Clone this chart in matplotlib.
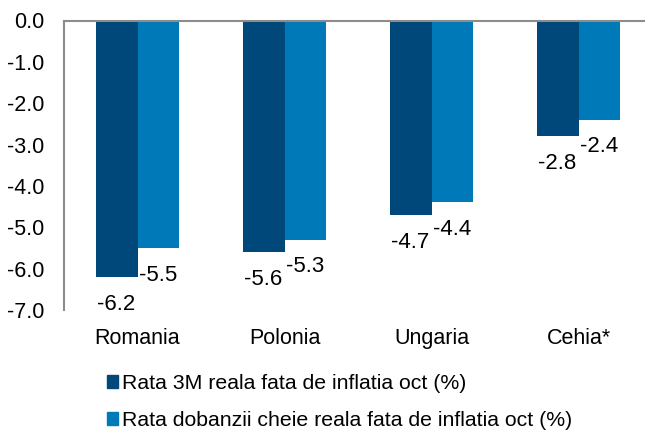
import numpy as np
import matplotlib
matplotlib.use('Agg')
import matplotlib.pyplot as plt
from matplotlib.patches import Patch

plt.rcParams['font.family'] = ['Liberation Sans', 'DejaVu Sans']

# Datele graficului
tari = ['Romania', 'Polonia', 'Ungaria', 'Cehia*']
rata_3m = [-6.2, -5.6, -4.7, -2.8]
rata_cheie = [-5.5, -5.3, -4.4, -2.4]
serii = ['Rata 3M reala fata de inflatia oct (%)',
         'Rata dobanzii cheie reala fata de inflatia oct (%)']
culori = ['#00487A', '#0079B9']

fig = plt.figure(figsize=(6.45, 4.32), dpi=100)
ax = fig.add_axes([64 / 645, 1 - 310 / 432, 588 / 645, 289.5 / 432])

x = np.arange(len(tari))
w = 0.285
b1 = ax.bar(x - w / 2, rata_3m, w, color=culori[0])
b2 = ax.bar(x + w / 2, rata_cheie, w, color=culori[1])

# etichete sub fiecare bara
for bars, vals in [(b1, rata_3m), (b2, rata_cheie)]:
    for b, v in zip(bars, vals):
        ax.annotate(f'{v:.1f}', (b.get_x() + b.get_width() / 2, v),
                    xytext=(0, -12), textcoords='offset points',
                    ha='center', va='top', fontsize=16)

ax.set_xlim(-0.5, 3.5)
ax.set_ylim(-7, 0)
ax.set_yticks(np.arange(0, -7.5, -1))
ax.set_yticklabels([f'{v:.1f}' for v in np.arange(0, -7.5, -1)])
ax.set_xticks(x)
ax.set_xticklabels(tari)
ax.tick_params(axis='both', length=0, labelsize=15.5)
ax.tick_params(axis='y', pad=14)
ax.tick_params(axis='x', pad=13)

for s in ['right', 'bottom']:
    ax.spines[s].set_visible(False)
for s in ['left', 'top']:
    ax.spines[s].set_color('#8c8c8c')
    ax.spines[s].set_linewidth(1.5)

handles = [Patch(color=c) for c in culori]
fig.legend(handles, serii, loc='upper left', bbox_to_anchor=(107 / 645, 1 - 374 / 432),
           frameon=False, fontsize=15.3, borderpad=0, borderaxespad=0,
           handlelength=0.5, handleheight=0.5, handletextpad=0.22, labelspacing=0.85)

fig.savefig('out.png', dpi=100)
